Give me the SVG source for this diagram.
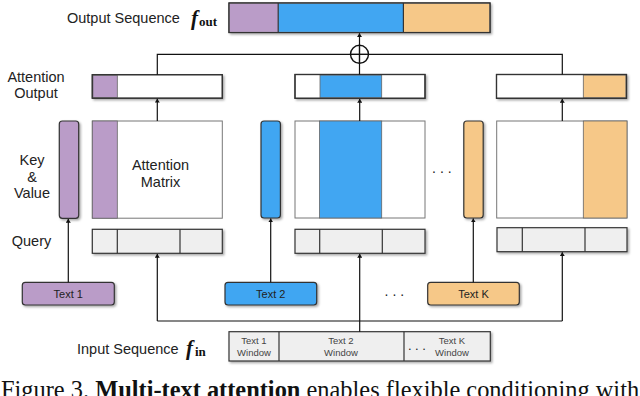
<svg xmlns="http://www.w3.org/2000/svg" width="640" height="396" viewBox="0 0 640 396">
<defs>
<filter id="sh" x="-20%" y="-20%" width="140%" height="140%">
<feDropShadow dx="1.5" dy="1.5" stdDeviation="0.8" flood-color="#000" flood-opacity="0.35"/>
</filter>
<marker id="arr" viewBox="0 0 6 8" refX="6" refY="4" markerWidth="4" markerHeight="5" orient="auto" markerUnits="userSpaceOnUse">
<path d="M0,0 L6,4 L0,8 z" fill="#111"/>
</marker>
</defs>
<style>
.lbl{font-family:"Liberation Sans",Arial,sans-serif;font-size:14.5px;fill:#222;}
.box{stroke:#333;stroke-width:1.2;filter:url(#sh);}
.mat{fill:#fff;stroke:#777;stroke-width:1;}
.seg{stroke:#666;stroke-width:0.8;}
.q{fill:#efefef;}
.w{fill:#fff;}
.p{fill:#ba9cc8;}
.b{fill:#41a6f2;}
.o{fill:#f6c888;}
.div{stroke:#333;stroke-width:1.2;}
.tb{font-family:"Liberation Sans",Arial,sans-serif;font-size:11px;fill:#222;text-anchor:middle;}
.win{font-family:"Liberation Sans",Arial,sans-serif;font-size:9.5px;fill:#444;text-anchor:middle;}
.dots{font-family:"Liberation Sans",Arial,sans-serif;font-size:14px;fill:#222;letter-spacing:4px;}
.math{font-family:"Liberation Serif","Times New Roman",serif;font-weight:bold;fill:#111;}
.con{fill:none;stroke:#111;stroke-width:1.2;}
</style>

<!-- Labels -->
<g id="label-output-sequence"><text class="lbl" x="67" y="23">Output Sequence</text>
<text class="math" x="191" y="25" font-size="21" font-style="italic">f</text><text class="math" x="199" y="26" font-size="13">out</text></g>
<g id="label-attention-output"><text class="lbl" x="36" y="82" text-anchor="middle">Attention</text><text class="lbl" x="36" y="98" text-anchor="middle">Output</text></g>
<g id="label-key-value"><text class="lbl" x="32" y="165" text-anchor="middle">Key</text><text class="lbl" x="32" y="181.5" text-anchor="middle">&amp;</text><text class="lbl" x="32" y="198" text-anchor="middle">Value</text></g>
<g id="label-query"><text class="lbl" x="31.5" y="245.5" text-anchor="middle">Query</text></g>
<g id="label-input-sequence"><text class="lbl" x="77" y="353.5">Input Sequence</text>
<text class="math" x="186" y="355" font-size="21" font-style="italic">f</text><text class="math" x="195" y="356" font-size="13">in</text></g>

<!-- Output sequence -->
<g id="output-sequence">
<rect class="box w" x="229" y="3" width="261" height="29.5"/>
<rect class="p" x="229.6" y="3.6" width="48.6" height="28.3"/>
<rect class="b" x="278.2" y="3.6" width="125.2" height="28.3"/>
<rect class="o" x="403.4" y="3.6" width="86" height="28.3"/>
<line class="div" x1="278.2" y1="3" x2="278.2" y2="32.5"/>
<line class="div" x1="403.4" y1="3" x2="403.4" y2="32.5"/>
<rect x="229" y="3" width="261" height="29.5" fill="none" stroke="#333" stroke-width="1.2"/>
</g>

<!-- Combine -->
<g id="combine">
<circle cx="359.5" cy="54.3" r="9" fill="#fff" stroke="#111" stroke-width="1.4"/>
<line x1="350.5" y1="54.3" x2="368.5" y2="54.3" stroke="#111" stroke-width="1.4"/>
<line x1="359.5" y1="45.3" x2="359.5" y2="63.3" stroke="#111" stroke-width="1.4"/>
</g>

<!-- Attention outputs -->
<g id="attention-output-1">
<rect class="box w" x="92.3" y="74.7" width="130" height="23.5"/>
<rect class="p seg" x="92.9" y="75.3" width="24.4" height="22.3"/>
<rect x="92.3" y="74.7" width="130" height="23.5" fill="none" stroke="#333" stroke-width="1.2"/>
</g>
<g id="attention-output-2">
<rect class="box w" x="295" y="74.5" width="130" height="23.8"/>
<rect class="b seg" x="320" y="75.1" width="61.7" height="22.6"/>
<rect x="295" y="74.5" width="130" height="23.8" fill="none" stroke="#333" stroke-width="1.2"/>
</g>
<g id="attention-output-k">
<rect class="box w" x="496.5" y="74.5" width="130" height="23.8"/>
<rect class="o seg" x="583.3" y="75.1" width="42.6" height="22.6"/>
<rect x="496.5" y="74.5" width="130" height="23.8" fill="none" stroke="#333" stroke-width="1.2"/>
</g>

<!-- Key & Value bars -->
<g id="key-value-1"><rect class="box p" x="59.3" y="121" width="19.4" height="97.3" rx="3"/></g>
<g id="key-value-2"><rect class="box b" x="261" y="121" width="19.4" height="97" rx="3"/></g>
<g id="key-value-k"><rect class="box o" x="463.8" y="121" width="19.4" height="97" rx="3"/></g>

<!-- Attention matrices -->
<g id="attention-matrix-1">
<rect class="mat" x="92.3" y="121" width="130" height="97.2"/>
<rect class="p seg" x="92.3" y="121" width="25" height="97.2"/>
<text class="lbl" x="160.5" y="170" text-anchor="middle">Attention</text>
<text class="lbl" x="160.5" y="187" text-anchor="middle">Matrix</text>
</g>
<g id="attention-matrix-2">
<rect class="mat" x="295" y="121" width="130" height="97"/>
<rect class="b seg" x="319.5" y="121" width="62.2" height="97"/>
</g>
<g id="attention-matrix-k">
<rect class="mat" x="496.7" y="121" width="130.3" height="97"/>
<rect class="o seg" x="583.3" y="121" width="43.7" height="97"/>
</g>
<g id="ellipsis-matrix"><text class="dots" x="432" y="172.5">...</text></g>

<!-- Queries -->
<g id="query-1">
<rect class="box q" x="92.3" y="229.3" width="130" height="24"/>
<line class="div" x1="117.3" y1="229.3" x2="117.3" y2="253.3"/>
<line class="div" x1="180" y1="229.3" x2="180" y2="253.3"/>
</g>
<g id="query-2">
<rect class="box q" x="295" y="229.3" width="130" height="24"/>
<line class="div" x1="319.7" y1="229.3" x2="319.7" y2="253.3"/>
<line class="div" x1="382.3" y1="229.3" x2="382.3" y2="253.3"/>
</g>
<g id="query-k">
<rect class="box q" x="497" y="227.7" width="130" height="24"/>
<line class="div" x1="522.3" y1="227.7" x2="522.3" y2="251.7"/>
<line class="div" x1="585" y1="227.7" x2="585" y2="251.7"/>
</g>

<!-- Text boxes -->
<g id="text-1"><rect class="box p" x="22.3" y="282.3" width="92" height="22.7" rx="3"/><text class="tb" x="68.3" y="297.6">Text 1</text></g>
<g id="text-2"><rect class="box b" x="225" y="282.3" width="91.7" height="22.7" rx="3"/><text class="tb" x="270.8" y="297.6">Text 2</text></g>
<g id="text-k"><rect class="box o" x="427.7" y="282.3" width="91.6" height="22.7" rx="3"/><text class="tb" x="473.5" y="297.6">Text K</text></g>
<g id="ellipsis-text"><text class="dots" x="384.5" y="296">...</text></g>

<!-- Input sequence -->
<g id="input-sequence">
<rect class="box q" x="229" y="331.7" width="261.3" height="29.3"/>
<line class="div" x1="279" y1="331.7" x2="279" y2="361"/>
<line class="div" x1="404" y1="331.7" x2="404" y2="361"/>
<text class="win" x="254" y="344">Text 1</text><text class="win" x="254" y="356">Window</text>
<text class="win" x="341" y="344">Text 2</text><text class="win" x="341" y="356">Window</text>
<text class="win" x="452" y="344">Text K</text><text class="win" x="452" y="356">Window</text>
<text class="dots" x="408" y="349.5" style="font-size:13px;letter-spacing:3.5px">...</text>
</g>

<!-- Connectors -->
<g id="connectors">
<path class="con" d="M157.3,74.7 V54.3 H350.5 M368.5,54.3 H562.3 V74.5"/>
<path class="con" d="M359.5,74.5 V63.3"/>
<path class="con" d="M359.5,45.3 V33.2" marker-end="url(#arr)"/>
<path class="con" d="M157.3,121 V98.8" marker-end="url(#arr)"/>
<path class="con" d="M359.7,121 V98.9" marker-end="url(#arr)"/>
<path class="con" d="M562.3,121 V98.9" marker-end="url(#arr)"/>
<path class="con" d="M68.3,282.3 V218.9" marker-end="url(#arr)"/>
<path class="con" d="M270.7,282.3 V218.6" marker-end="url(#arr)"/>
<path class="con" d="M473.3,282.3 V218.6" marker-end="url(#arr)"/>
<path class="con" d="M359.7,331.7 V253.9" marker-end="url(#arr)"/>
<path class="con" d="M157.3,321 V253.9" marker-end="url(#arr)"/>
<path class="con" d="M562.3,321 V252.3" marker-end="url(#arr)"/>
<path class="con" d="M157.3,321 H562.3"/>
</g>

<!-- Caption -->
<text x="1" y="398" font-family="'Liberation Serif','Times New Roman',serif" font-size="24.4" fill="#111">Figure 3. <tspan font-weight="bold">Multi-text attention</tspan> enables flexible conditioning with</text>
</svg>
